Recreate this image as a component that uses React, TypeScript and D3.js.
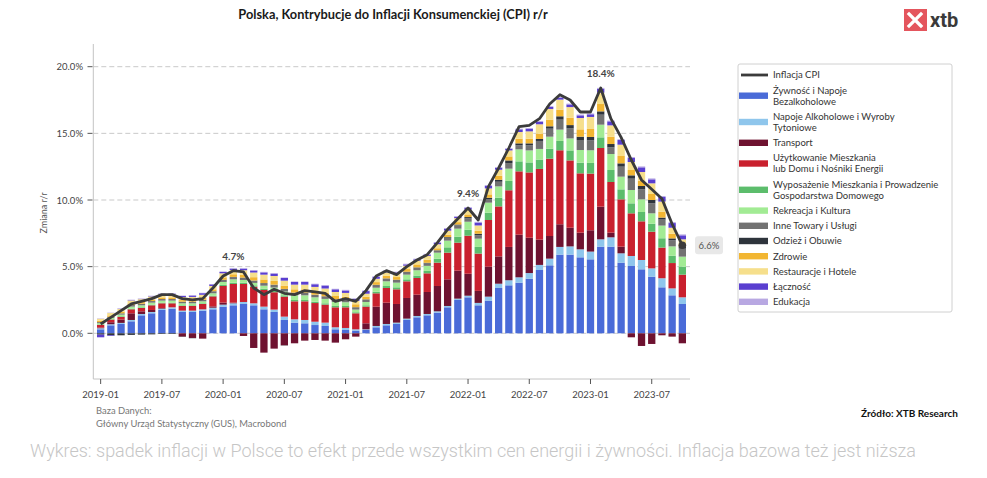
import React from "react";
import * as d3 from "d3";

const months = [
  "2019-01","2019-02","2019-03","2019-04","2019-05","2019-06","2019-07","2019-08","2019-09","2019-10","2019-11","2019-12",
  "2020-01","2020-02","2020-03","2020-04","2020-05","2020-06","2020-07","2020-08","2020-09","2020-10","2020-11","2020-12",
  "2021-01","2021-02","2021-03","2021-04","2021-05","2021-06","2021-07","2021-08","2021-09","2021-10","2021-11","2021-12",
  "2022-01","2022-02","2022-03","2022-04","2022-05","2022-06","2022-07","2022-08","2022-09","2022-10","2022-11","2022-12",
  "2023-01","2023-02","2023-03","2023-04","2023-05","2023-06","2023-07","2023-08","2023-09","2023-10",
];

const tickLabels = ["2019-01","2019-07","2020-01","2020-07","2021-01","2021-07","2022-01","2022-07","2023-01","2023-07"];
const yTicks = [0, 5, 10, 15, 20];

const cpi = [
  0.7,1.2,1.7,2.2,2.4,2.6,2.9,2.9,2.6,2.5,2.6,3.4,
  4.3,4.7,4.6,3.4,2.9,3.3,3.0,2.9,3.2,3.1,3.0,2.4,
  2.6,2.4,3.2,4.3,4.7,4.4,5.0,5.5,5.9,6.8,7.8,8.6,
  9.4,8.5,11.0,12.4,13.9,15.5,15.6,16.1,17.2,17.9,17.5,16.6,
  16.6,18.4,16.1,14.7,13.0,11.5,10.8,10.1,8.2,6.6,
];

const food = [
  0.30,0.60,0.70,0.90,1.35,1.50,1.75,1.85,1.60,1.60,1.70,1.80,
  2.00,2.10,2.20,2.10,1.80,1.60,1.00,0.80,0.75,0.62,0.55,0.30,
  0.25,0.20,0.25,0.45,0.60,0.70,1.00,1.20,1.35,1.55,1.95,2.50,
  2.70,2.10,2.45,3.40,3.60,3.80,4.10,4.75,5.10,5.90,5.90,5.70,
  5.55,6.50,6.50,5.30,5.05,4.80,4.25,3.45,2.85,2.20,
];
const alco = [
  0.08,0.08,0.08,0.10,0.10,0.10,0.10,0.10,0.10,0.10,0.10,0.12,
  0.15,0.15,0.15,0.15,0.20,0.18,0.25,0.25,0.25,0.25,0.25,0.15,
  0.15,0.10,0.05,0.10,0.10,0.10,0.10,0.10,0.10,0.10,0.10,0.10,
  0.12,0.18,0.30,0.32,0.38,0.40,0.42,0.38,0.50,0.58,0.62,0.60,
  0.58,0.55,0.70,0.70,0.75,0.70,0.62,0.68,0.52,0.50,
];
const transport = [
  0.05,0.15,0.25,0.50,0.20,0.15,0.05,0.00,-0.25,-0.35,-0.40,0.10,
  0.15,0.05,-0.20,-1.10,-1.45,-1.15,-0.90,-0.75,-0.55,-0.50,-0.55,-0.70,
  -0.45,-0.25,0.45,1.45,1.60,1.40,1.55,1.60,1.65,1.90,2.00,2.10,
  1.65,0.90,2.25,2.05,2.50,3.20,2.65,1.90,1.70,1.70,1.40,1.25,
  1.60,2.45,0.35,0.50,-0.30,-0.95,-0.80,-0.15,-0.25,-0.75,
];
const housing = [
  0.20,0.20,0.20,0.30,0.25,0.35,0.35,0.30,0.35,0.35,0.40,0.75,
  1.25,1.40,1.35,1.25,1.25,1.30,1.50,1.35,1.40,1.40,1.35,1.50,
  1.55,1.20,1.25,1.00,1.10,1.10,1.25,1.25,1.40,1.75,2.00,2.10,
  2.85,2.80,3.50,3.75,4.25,4.75,4.90,5.30,5.80,5.55,5.05,4.45,
  4.25,4.40,3.80,3.55,3.20,2.90,2.75,2.30,1.90,1.70,
];
const furnish = [
  0.03,0.03,0.05,0.05,0.05,0.05,0.05,0.05,0.05,0.05,0.05,0.05,
  0.08,0.10,0.10,0.10,0.10,0.10,0.10,0.10,0.10,0.10,0.10,0.10,
  0.10,0.08,0.10,0.12,0.15,0.15,0.15,0.18,0.18,0.30,0.40,0.45,
  0.45,0.50,0.55,0.65,0.70,0.75,0.75,0.70,0.75,0.70,0.75,0.80,
  0.80,0.80,0.90,0.75,0.75,0.70,0.60,0.70,0.55,0.60,
];
const recreation = [
  0.10,0.10,0.12,0.15,0.15,0.15,0.15,0.15,0.15,0.15,0.15,0.18,
  0.22,0.25,0.20,0.18,0.22,0.25,0.28,0.35,0.35,0.33,0.33,0.30,
  0.28,0.20,0.25,0.30,0.35,0.35,0.35,0.40,0.38,0.45,0.50,0.60,
  0.60,0.62,0.75,0.85,0.92,0.90,0.90,0.80,0.90,0.85,0.90,0.95,
  0.95,0.95,1.20,0.95,1.00,0.95,0.78,0.95,0.70,0.75,
];
const other = [
  0.08,0.08,0.10,0.12,0.12,0.12,0.12,0.12,0.12,0.12,0.12,0.14,
  0.15,0.16,0.16,0.18,0.20,0.22,0.20,0.20,0.20,0.20,0.20,0.20,
  0.20,0.18,0.18,0.20,0.20,0.20,0.20,0.20,0.20,0.15,0.22,0.25,
  0.25,0.25,0.25,0.35,0.42,0.30,0.38,0.60,0.60,0.75,0.75,0.75,
  0.75,0.75,0.50,0.75,0.85,0.75,0.75,0.45,0.45,0.60,
];
const clothing = [
  -0.10,-0.15,-0.15,-0.12,-0.10,-0.08,-0.05,-0.05,-0.02,-0.02,0.00,0.02,
  0.02,0.02,0.02,0.00,0.00,0.00,-0.02,0.00,0.00,0.00,0.00,0.00,
  0.00,0.00,0.02,0.02,0.02,0.02,0.02,0.02,0.03,0.03,0.05,0.06,
  0.10,0.12,0.12,0.15,0.20,0.15,0.15,0.15,0.18,0.25,0.25,0.25,
  0.25,0.25,0.25,0.25,0.25,0.25,0.25,0.15,0.15,0.15,
];
const health = [
  0.10,0.10,0.12,0.12,0.12,0.12,0.12,0.12,0.12,0.12,0.13,0.14,
  0.18,0.20,0.22,0.25,0.27,0.28,0.25,0.25,0.25,0.25,0.25,0.25,
  0.22,0.22,0.20,0.20,0.20,0.20,0.20,0.22,0.22,0.15,0.18,0.18,
  0.20,0.22,0.25,0.30,0.30,0.35,0.35,0.40,0.50,0.50,0.55,0.55,
  0.60,0.55,0.55,0.55,0.40,0.40,0.45,0.45,0.35,0.25,
];
const restaurants = [
  0.15,0.18,0.20,0.22,0.22,0.22,0.22,0.23,0.23,0.24,0.24,0.25,
  0.30,0.32,0.33,0.35,0.36,0.37,0.37,0.35,0.35,0.33,0.33,0.30,
  0.28,0.25,0.22,0.25,0.25,0.25,0.25,0.28,0.30,0.30,0.30,0.30,
  0.35,0.40,0.45,0.45,0.45,0.50,0.55,0.70,0.80,0.75,0.80,0.85,
  0.90,0.85,0.85,0.85,0.60,0.65,0.80,0.75,0.45,0.30,
];
const communication = [
  -0.20,-0.05,0.02,0.03,0.02,0.03,0.05,0.05,0.08,0.10,0.12,0.12,
  0.10,0.10,0.12,0.15,0.17,0.18,0.20,0.20,0.20,0.20,0.22,0.20,
  0.18,0.15,0.20,0.15,0.10,0.10,0.10,0.10,0.10,0.12,0.15,0.10,
  0.15,0.22,0.20,0.15,0.12,0.20,0.20,0.20,0.15,0.15,0.20,0.20,
  0.20,0.30,0.30,0.35,0.30,0.35,0.30,0.35,0.35,0.30,
];
const education = [
  0.03,0.03,0.03,0.03,0.03,0.03,0.03,0.03,0.03,0.03,0.03,0.03,
  0.04,0.04,0.04,0.04,0.04,0.04,0.04,0.04,0.04,0.04,0.04,0.04,
  0.05,0.05,0.05,0.05,0.05,0.05,0.05,0.05,0.05,0.05,0.05,0.05,
  0.05,0.05,0.05,0.05,0.05,0.05,0.05,0.05,0.06,0.06,0.06,0.06,
  0.06,0.06,0.06,0.06,0.07,0.07,0.07,0.07,0.07,0.07,
];

const seriesNames = [
  ["Żywność i Napoje", "Bezalkoholowe"],
  ["Napoje Alkoholowe i Wyroby", "Tytoniowe"],
  ["Transport"],
  ["Użytkowanie Mieszkania", "lub Domu i Nośniki Energii"],
  ["Wyposażenie Mieszkania i Prowadzenie", "Gospodarstwa Domowego"],
  ["Rekreacja i Kultura"],
  ["Inne Towary i Usługi"],
  ["Odzież i Obuwie"],
  ["Zdrowie"],
  ["Restauracje i Hotele"],
  ["Łączność"],
  ["Edukacja"],
];
const seriesValues = [food, alco, transport, housing, furnish, recreation, other, clothing, health, restaurants, communication, education];
const seriesColors = [
  "#4a6bd8", "#8fc6ec", "#6e1230", "#c9202e", "#5cbd6c", "#a2eb94",
  "#727272", "#2e343c", "#f2b632", "#f6df8c", "#5a3fd0", "#b8a8e2",
];

const W = 987;
const H = 478;
const FONT = "Lato, 'Open Sans', sans-serif";

export default function App() {
  const keys = seriesValues.map((_, i) => "s" + i);
  const table = months.map((m, i) => {
    const row: any = { month: m };
    seriesValues.forEach((arr, k) => (row["s" + k] = arr[i]));
    return row;
  });
  const stacked = d3.stack().keys(keys).offset(d3.stackOffsetDiverging)(table);

  const x = d3.scaleLinear().domain([-0.72, months.length - 1 + 0.75]).range([93.3, 690]);
  const y = d3.scaleLinear().domain([0, 20]).range([333.3, 66.7]);
  const bw = 7.3;
  const plotTop = 44;
  const plotBottom = 379;

  const line = d3
    .line<number>()
    .x((_, i) => x(i))
    .y((d) => y(d))
    .curve(d3.curveLinear);

  const annotations = [
    { m: "2020-02", text: "4.7%" },
    { m: "2022-01", text: "9.4%" },
    { m: "2023-02", text: "18.4%" },
  ];

  const legendX = 738;
  const legendY = 64;
  let cursor = legendY + 11;
  const legendRows: { y: number; lines: string[]; color: string; isLine?: boolean }[] = [];
  legendRows.push({ y: cursor, lines: ["Inflacja CPI"], color: "#3b3b3b", isLine: true });
  cursor += 15.2;
  seriesNames.forEach((n, i) => {
    legendRows.push({ y: cursor, lines: n, color: seriesColors[i] });
    cursor += n.length === 2 ? 26.3 : 15.2;
  });

  const last = months.length - 1;

  return (
    <svg width={W} height={H} style={{ position: "absolute", left: 0, top: 0, background: "#fff" }} fontFamily={FONT}>
      <text x={393} y={19} textAnchor="middle" fontSize={12.8} fontWeight={700} fill="#1a1a1a">
        Polska, Kontrybucje do Inflacji Konsumenckiej (CPI) r/r
      </text>

      <g>
        <rect x={904} y={9} width={23} height={22} fill="#e4555d" />
        <path d="M909 14 L921 26 M921 14 L909 26" stroke="#fff" strokeWidth={3.2} strokeLinecap="square" />
        <text x={930} y={27} fontSize={20} fontWeight={700} fill="#3a3a3a" fontFamily="Roboto, sans-serif">xtb</text>
      </g>

      {yTicks.map((t) => (
        <line key={"g" + t} x1={93.3} x2={690} y1={y(t)} y2={y(t)} stroke="#c9c9c9" strokeDasharray="5,3" strokeWidth={1} />
      ))}

      <line x1={93.3} x2={93.3} y1={plotTop} y2={plotBottom} stroke="#c4c4c4" />
      <line x1={93.3} x2={690} y1={plotBottom} y2={plotBottom} stroke="#c4c4c4" />
      {yTicks.map((t) => (
        <g key={"yt" + t}>
          <line x1={87.5} x2={92.5} y1={y(t)} y2={y(t)} stroke="#555" />
          <text x={83} y={y(t) + 3.5} textAnchor="end" fontSize={9.5} fill="#444">
            {t.toFixed(1)}%
          </text>
        </g>
      ))}
      {tickLabels.map((t) => {
        const i = months.indexOf(t);
        return (
          <g key={"xt" + t}>
            <line x1={x(i)} x2={x(i)} y1={plotBottom} y2={plotBottom + 5} stroke="#555" />
            <text x={x(i)} y={plotBottom + 19} textAnchor="middle" fontSize={9.5} fill="#444">
              {t}
            </text>
          </g>
        );
      })}
      <text transform={`translate(47,213) rotate(-90)`} textAnchor="middle" fontSize={9} fill="#555">
        Zmiana r/r
      </text>

      {stacked.map((layer, k) => (
        <g key={layer.key} fill={seriesColors[k]}>
          {layer.map((d, i) => {
            const y0 = y(d[0]);
            const y1 = y(d[1]);
            const h = Math.abs(y0 - y1);
            if (h <= 0) return null;
            return <rect key={i} x={x(i) - bw / 2} y={Math.min(y0, y1)} width={bw} height={h} />;
          })}
        </g>
      ))}

      <path d={line(cpi) || ""} fill="none" stroke="#3b3b3b" strokeWidth={2.8} strokeLinejoin="round" />
      <circle cx={x(last)} cy={y(cpi[last])} r={3.8} fill="#3b3b3b" />

      {annotations.map((a) => {
        const i = months.indexOf(a.m);
        return (
          <text key={a.m} x={x(i)} y={y(cpi[i]) - 11} textAnchor="middle" fontSize={10} fontWeight={700} fill="#444">
            {a.text}
          </text>
        );
      })}

      <rect x={695} y={y(cpi[last]) - 9} width={28} height={18} rx={3} fill="#e8e8e8" />
      <text x={709} y={y(cpi[last]) + 3.5} textAnchor="middle" fontSize={9.5} fill="#555">
        {cpi[last].toFixed(1)}%
      </text>

      <rect x={legendX} y={legendY} width={214} height={248} fill="#fff" stroke="#d0d0d0" rx={2} />
      {legendRows.map((r, i) => {
        const swY = r.lines.length === 2 ? r.y + 5.5 : r.y;
        return (
          <g key={"lg" + i}>
            {r.isLine ? (
              <line x1={741} x2={768} y1={swY} y2={swY} stroke={r.color} strokeWidth={2.8} />
            ) : (
              <rect x={739} y={swY - 3.2} width={29} height={6.4} fill={r.color} />
            )}
            {r.lines.map((ln, j) => (
              <text key={j} x={773} y={r.y + 3.3 + j * 11} fontSize={9.5} fill="#333">
                {ln}
              </text>
            ))}
          </g>
        );
      })}

      <text x={96} y={414} fontSize={9.4} fill="#777">Baza Danych:</text>
      <text x={96} y={427} fontSize={9.4} fill="#777">Główny Urząd Statystyczny (GUS), Macrobond</text>
      <text x={958} y={417} textAnchor="end" fontSize={10} fontWeight={700} fill="#111">Źródło: XTB Research</text>
      <text x={30} y={457} fontSize={18} fontWeight={300} fill="#c6c6c6" fontFamily="Roboto, sans-serif">
        Wykres: spadek inflacji w Polsce to efekt przede wszystkim cen energii i żywności. Inflacja bazowa też jest niższa
      </text>
    </svg>
  );
}
